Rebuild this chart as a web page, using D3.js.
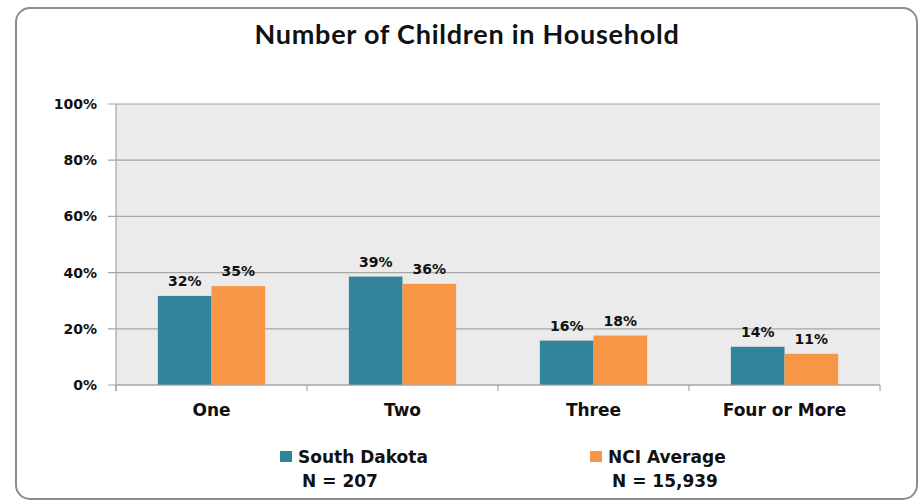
<!DOCTYPE html>
<html>
<head>
<meta charset="utf-8">
<script src="https://cdn.jsdelivr.net/npm/d3@7"></script>
<style>
  body { margin: 0; background: #fff; }
  svg { display: block; }
</style>
</head>
<body>
<script>
const categories = ["One", "Two", "Three", "Four or More"];
const seriesNames = ["South Dakota", "NCI Average"];
const seriesN = ["N = 207", "N = 15,939"];
const southDakota = [31.7, 38.6, 15.8, 13.6];
const nciAverage = [35.2, 36.0, 17.6, 11.1];
const barLabels = [["32%", "39%", "16%", "14%"], ["35%", "36%", "18%", "11%"]];
const yTicks = [0, 20, 40, 60, 80, 100];
const colors = ["#31849B", "#F79646"];

const w = 921, h = 501;
const plotLeft = 116, plotRight = 880, plotTop = 104, plotBottom = 385;
const font = "'DejaVu Sans', Verdana, sans-serif";

const svg = d3.select("body").append("svg")
    .attr("width", w)
    .attr("height", h);

// outer frame
svg.append("rect")
    .attr("x", 16).attr("y", 8)
    .attr("width", 901).attr("height", 491)
    .attr("rx", 14)
    .style("fill", "#fff")
    .style("stroke", "#8c8c8c")
    .style("stroke-width", 2);

svg.append("text")
    .attr("x", 467).attr("y", 44)
    .style("text-anchor", "middle")
    .style("font-family", "Lato, 'Open Sans', sans-serif")
    .style("font-weight", "bold")
    .style("font-size", "27px")
    .style("letter-spacing", "0.75px")
    .style("fill", "#111")
    .text("Number of Children in Household");

const x0 = d3.scaleBand().domain(categories).range([plotLeft, plotRight]).paddingInner(0).paddingOuter(0);
const x1 = d3.scaleBand().domain([0, 1]).range([0, x0.bandwidth()]).paddingInner(0).paddingOuter(0.78);
const y = d3.scaleLinear().domain([0, 100]).range([plotBottom, plotTop]);

// plot background
svg.append("rect")
    .attr("x", plotLeft).attr("y", plotTop)
    .attr("width", plotRight - plotLeft).attr("height", plotBottom - plotTop)
    .style("fill", "#ebebeb");

// gridlines
svg.append("g").selectAll("line")
    .data(yTicks)
    .enter().append("line")
    .attr("x1", plotLeft - 8).attr("x2", plotRight)
    .attr("y1", d => y(d)).attr("y2", d => y(d))
    .style("stroke", "#a6a6a6")
    .style("stroke-width", 1.2);

// y axis line
svg.append("line")
    .attr("x1", plotLeft).attr("x2", plotLeft)
    .attr("y1", plotTop).attr("y2", plotBottom + 6)
    .style("stroke", "#a6a6a6").style("stroke-width", 1.2);

// y labels
svg.append("g").selectAll("text")
    .data(yTicks)
    .enter().append("text")
    .attr("x", 97)
    .attr("y", d => y(d) + 5)
    .style("text-anchor", "end")
    .style("font-family", font)
    .style("font-weight", "bold")
    .style("font-size", "14px")
    .style("fill", "#111")
    .text(d => d + "%");

// category ticks
const bounds = categories.map(c => x0(c)).concat([plotRight]);
svg.append("g").selectAll("line")
    .data(bounds)
    .enter().append("line")
    .attr("x1", d => d).attr("x2", d => d)
    .attr("y1", plotBottom).attr("y2", plotBottom + 6)
    .style("stroke", "#a6a6a6").style("stroke-width", 1.2);

const series = [southDakota, nciAverage];

series.forEach((vals, s) => {
    const g = svg.append("g");
    g.selectAll("rect")
        .data(vals)
        .enter().append("rect")
        .attr("x", (d, i) => x0(categories[i]) + x1(s))
        .attr("y", d => y(d))
        .attr("width", x1.bandwidth())
        .attr("height", d => plotBottom - y(d))
        .style("fill", colors[s]);
    g.selectAll("text")
        .data(vals)
        .enter().append("text")
        .attr("x", (d, i) => x0(categories[i]) + x1(s) + x1.bandwidth() / 2)
        .attr("y", d => y(d) - 10)
        .style("text-anchor", "middle")
        .style("font-family", font)
        .style("font-weight", "bold")
        .style("font-size", "14px")
        .style("fill", "#111")
        .text((d, i) => barLabels[s][i]);
});

// x axis baseline
svg.append("line")
    .attr("x1", plotLeft).attr("x2", plotRight)
    .attr("y1", plotBottom).attr("y2", plotBottom)
    .style("stroke", "#a6a6a6").style("stroke-width", 1.2);

// category labels
svg.append("g").selectAll("text")
    .data(categories)
    .enter().append("text")
    .attr("x", d => x0(d) + x0.bandwidth() / 2)
    .attr("y", 416)
    .style("text-anchor", "middle")
    .style("font-family", font)
    .style("font-weight", "bold")
    .style("font-size", "17px")
    .style("fill", "#111")
    .text(d => d);

// legend
const legendX = [280, 590];
const legendNX = [340, 665];
seriesNames.forEach((name, s) => {
    svg.append("rect")
        .attr("x", legendX[s]).attr("y", 451)
        .attr("width", 12).attr("height", 11)
        .style("fill", colors[s]);
    svg.append("text")
        .attr("x", legendX[s] + 18).attr("y", 463)
        .style("font-family", font)
        .style("font-weight", "bold")
        .style("font-size", "17px")
        .style("fill", "#111")
        .text(name);
    svg.append("text")
        .attr("x", legendNX[s]).attr("y", 487)
        .style("text-anchor", "middle")
        .style("font-family", font)
        .style("font-weight", "bold")
        .style("font-size", "17px")
        .style("fill", "#111")
        .text(seriesN[s]);
});
</script>
</body>
</html>
